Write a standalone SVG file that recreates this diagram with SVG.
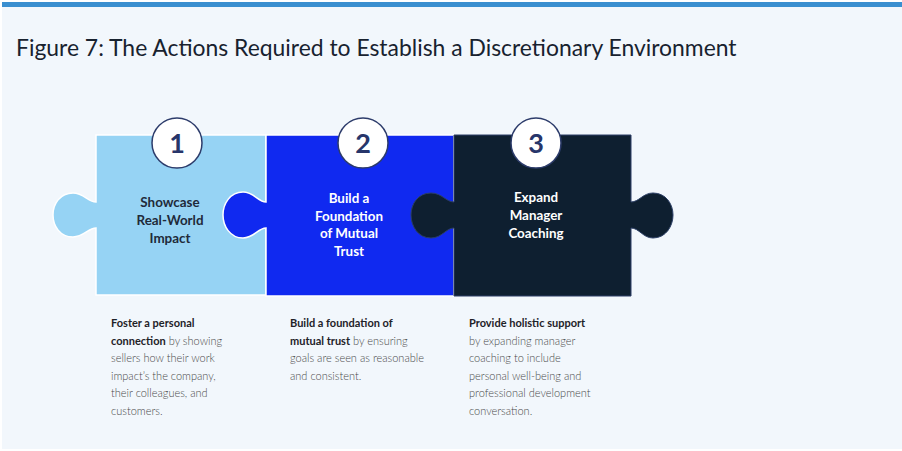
<svg xmlns="http://www.w3.org/2000/svg" width="902" height="451" viewBox="0 0 902 451">
<defs>
<style>
.title{font-family:Lato,"Liberation Sans",sans-serif;font-size:22.9px;fill:#18222f}
.lbl{font-family:Lato,"Liberation Sans",sans-serif;font-size:13.4px;font-weight:bold;text-anchor:middle}
.num{font-family:Lato,"Liberation Sans",sans-serif;font-size:27px;font-weight:bold;fill:#27356a;text-anchor:middle}
.badge{fill:#ffffff;stroke:#2d3c6b;stroke-width:1.5}
.body{font-family:Lato,"Liberation Sans",sans-serif;font-size:11px;fill:#4a4a4a;font-weight:300}
.body .b{font-weight:bold;fill:#1e2228}
</style>
</defs>
<rect x="0" y="0" width="902" height="451" fill="#ffffff"/>
<rect x="2" y="2" width="900" height="447" fill="#f2f7fc"/>
<rect x="2" y="2" width="900" height="5" fill="#3a8fd0"/>
<text class="title" x="16" y="56">Figure 7: The Actions Required to Establish a Discretionary Environment</text>

<g id="piece1">
<path d="M96,135 H266 V295 H96 V228 C88,228 84,237 73,237 C60,237 53,226 53,215 C53,204 60,193 73,193 C84,193 88,202 96,202 Z" fill="#96d3f4" stroke="#ffffff" stroke-width="1.5"/>
<text class="lbl" x="170" y="207" fill="#1f2a3a">Showcase</text>
<text class="lbl" x="170" y="225" fill="#1f2a3a">Real-World</text>
<text class="lbl" x="170" y="243" fill="#1f2a3a">Impact</text>
</g>

<g id="piece2">
<path d="M266,135 H454 V296 H266 V228 C258,228 254,238 243,238 C230,238 223,226 223,215 C223,204 230,192 243,192 C254,192 258,202 266,202 Z" fill="#1029f0" stroke="#ffffff" stroke-width="1.5"/>
<text class="lbl" x="349" y="203" fill="#ffffff">Build a</text>
<text class="lbl" x="349" y="220.5" fill="#ffffff">Foundation</text>
<text class="lbl" x="349" y="238" fill="#ffffff">of Mutual</text>
<text class="lbl" x="349" y="256" fill="#ffffff">Trust</text>
</g>

<g id="piece3">
<path d="M454,135 H631 V202 C639,202 643,193 653,193 C666,193 673,204 673,215 C673,226 666,238 653,238 C643,238 639,228 631,228 V296 H454 V228 C446,228 442,238 431,238 C418,238 411,226 411,215 C411,204 418,193 431,193 C442,193 446,202 454,202 Z" fill="#0e1f30" stroke="#2c3f66" stroke-width="1"/>
<text class="lbl" x="536" y="202" fill="#ffffff">Expand</text>
<text class="lbl" x="536" y="220" fill="#ffffff">Manager</text>
<text class="lbl" x="536" y="237.5" fill="#ffffff">Coaching</text>
</g>

<g id="badge1"><circle class="badge" cx="177" cy="143" r="25"/><text class="num" x="177" y="152.5">1</text></g>
<g id="badge2"><circle class="badge" cx="363" cy="143" r="25"/><text class="num" x="363" y="152.5">2</text></g>
<g id="badge3"><circle class="badge" cx="536" cy="143" r="25"/><text class="num" x="536" y="152.5">3</text></g>

<g id="desc1" class="body">
<text x="111" y="327"><tspan class="b">Foster a personal</tspan></text>
<text x="111" y="344.5"><tspan class="b">connection</tspan> by showing</text>
<text x="111" y="362">sellers how their work</text>
<text x="111" y="379.5">impact’s the company,</text>
<text x="111" y="397">their colleagues, and</text>
<text x="111" y="414.5">customers.</text>
</g>
<g id="desc2" class="body">
<text x="290" y="327"><tspan class="b">Build a foundation of</tspan></text>
<text x="290" y="344.5"><tspan class="b">mutual trust</tspan> by ensuring</text>
<text x="290" y="362">goals are seen as reasonable</text>
<text x="290" y="379.5">and consistent.</text>
</g>
<g id="desc3" class="body">
<text x="469" y="327"><tspan class="b">Provide holistic support</tspan></text>
<text x="469" y="344.5">by expanding manager</text>
<text x="469" y="362">coaching to include</text>
<text x="469" y="379.5">personal well-being and</text>
<text x="469" y="397">professional development</text>
<text x="469" y="414.5">conversation.</text>
</g>
</svg>
